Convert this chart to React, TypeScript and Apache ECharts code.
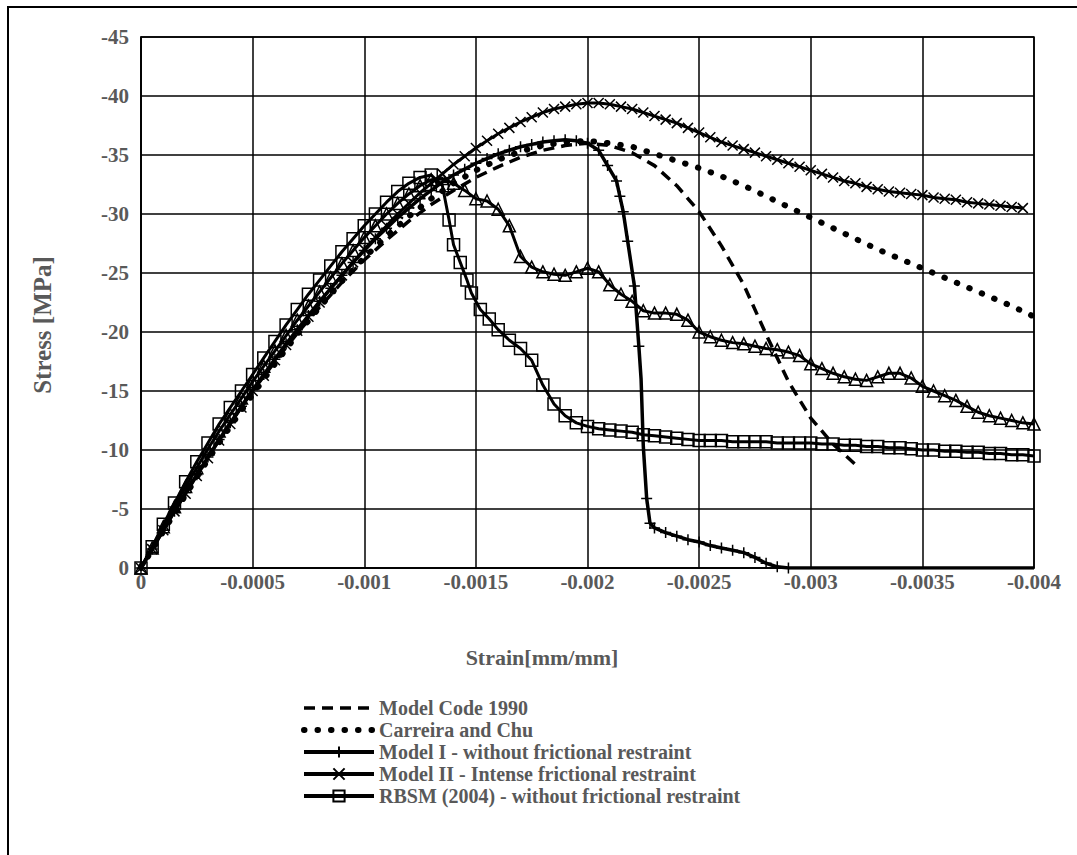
import React, { useEffect, useRef } from "react";
import * as echarts from "echarts";

// strain in units of 1e-3 mm/mm (magnitude), stress in MPa (magnitude); both are negative in the chart
const MODEL_CODE: number[][] = [
  [0, 0], [0.1, 3.3], [0.2, 6.5], [0.3, 9.5], [0.4, 12.3], [0.5, 15.0], [0.6, 17.5], [0.7, 19.9],
  [0.8, 22.1], [0.9, 24.2], [1.0, 26.1], [1.1, 27.8], [1.2, 29.4], [1.3, 30.8], [1.4, 32.0],
  [1.5, 33.1], [1.6, 34.0], [1.7, 34.8], [1.8, 35.4], [1.9, 35.8], [2.0, 36.0], [2.1, 35.8],
  [2.2, 35.2], [2.3, 34.1], [2.4, 32.4], [2.5, 30.2], [2.6, 27.3], [2.7, 24.0], [2.8, 19.8],
  [2.9, 15.8], [3.0, 12.7], [3.1, 10.5], [3.21, 8.6],
];

const CARREIRA_CHU: number[][] = [
  [0, 0], [0.1, 3.1], [0.2, 6.2], [0.3, 9.2], [0.4, 12.0], [0.5, 14.7], [0.6, 17.3], [0.7, 19.8],
  [0.8, 22.1], [0.9, 24.3], [1.0, 26.3], [1.1, 28.1], [1.2, 29.8], [1.3, 31.3], [1.4, 32.6],
  [1.5, 33.7], [1.6, 34.6], [1.7, 35.3], [1.8, 35.8], [1.9, 36.1], [2.0, 36.2], [2.1, 36.0],
  [2.2, 35.7], [2.3, 35.1], [2.4, 34.5], [2.5, 33.9], [2.6, 33.2], [2.7, 32.4], [2.8, 31.5],
  [2.9, 30.6], [3.0, 29.7], [3.1, 28.8], [3.2, 27.9], [3.3, 27.0], [3.4, 26.2], [3.5, 25.4],
  [3.6, 24.6], [3.7, 23.8], [3.8, 23.0], [3.9, 22.2], [4.0, 21.3],
];

// third element 1 = point on the curve without a marker
const MODEL_I: number[][] = [
  [0, 0], [0.05, 1.6], [0.1, 3.2], [0.15, 4.8], [0.2, 6.4], [0.25, 7.9], [0.3, 9.4], [0.35, 10.9],
  [0.4, 12.3], [0.45, 13.7], [0.5, 15.1], [0.55, 16.4], [0.6, 17.7], [0.65, 19.0], [0.7, 20.2],
  [0.75, 21.4], [0.8, 22.6], [0.85, 23.7], [0.9, 24.8], [0.95, 25.9], [1.0, 26.9], [1.05, 27.9],
  [1.1, 28.8], [1.15, 29.7], [1.2, 30.5], [1.25, 31.3], [1.3, 32.0], [1.35, 32.7], [1.4, 33.3],
  [1.45, 33.8], [1.5, 34.3], [1.55, 34.7], [1.6, 35.1], [1.65, 35.4], [1.7, 35.7], [1.75, 35.9],
  [1.8, 36.1], [1.85, 36.2], [1.9, 36.3], [1.95, 36.2], [2.0, 36.0], [2.05, 35.4], [2.09, 34.1],
  [2.13, 32.8], [2.145, 31.5], [2.16, 30.2], [2.18, 27.7], [2.21, 23.9], [2.23, 18.8],
  [2.24, 16.0, 1], [2.25, 10.3, 1], [2.265, 5.9], [2.28, 3.8], [2.3, 3.4], [2.35, 3.0],
  [2.4, 2.7], [2.45, 2.4], [2.5, 2.2], [2.55, 1.9], [2.6, 1.7], [2.65, 1.5], [2.7, 1.3],
  [2.75, 0.9], [2.8, 0.4], [2.85, 0.1], [2.9, 0], [4.0, 0, 1],
];

const MODEL_II: number[][] = [
  [0, 0], [0.05, 1.6], [0.1, 3.2], [0.15, 4.8], [0.2, 6.3], [0.25, 7.8], [0.3, 9.3], [0.35, 10.8],
  [0.4, 12.2], [0.45, 13.6], [0.5, 15.0], [0.55, 16.3], [0.6, 17.6], [0.65, 18.9], [0.7, 20.1],
  [0.75, 21.3], [0.8, 22.5], [0.85, 23.7], [0.9, 24.8], [0.95, 25.9], [1.0, 27.0], [1.05, 28.0],
  [1.1, 29.0], [1.15, 30.0], [1.2, 30.9], [1.25, 31.8], [1.3, 32.6], [1.35, 33.4], [1.4, 34.2],
  [1.45, 34.9], [1.5, 35.6], [1.55, 36.2], [1.6, 36.8], [1.65, 37.3], [1.7, 37.8], [1.75, 38.2],
  [1.8, 38.6], [1.85, 38.9], [1.9, 39.1], [1.95, 39.3], [2.0, 39.4], [2.05, 39.4], [2.1, 39.3],
  [2.15, 39.1], [2.2, 38.9], [2.25, 38.6], [2.3, 38.3], [2.35, 38.0], [2.4, 37.7], [2.45, 37.3],
  [2.5, 36.9], [2.55, 36.5], [2.6, 36.1], [2.65, 35.8], [2.7, 35.5], [2.75, 35.2], [2.8, 34.9],
  [2.85, 34.6], [2.9, 34.3], [2.95, 34.0], [3.0, 33.7], [3.05, 33.4], [3.1, 33.1], [3.15, 32.8],
  [3.2, 32.6], [3.25, 32.3], [3.3, 32.1], [3.35, 31.9], [3.4, 31.8], [3.45, 31.7], [3.5, 31.6],
  [3.55, 31.4], [3.6, 31.3], [3.65, 31.2], [3.7, 31.0], [3.75, 30.9], [3.8, 30.8], [3.85, 30.7],
  [3.9, 30.6], [3.95, 30.5],
];

const RBSM: number[][] = [
  [0, 0], [0.05, 1.8], [0.1, 3.7], [0.15, 5.5], [0.2, 7.3], [0.25, 9.0], [0.3, 10.6], [0.35, 12.2],
  [0.4, 13.6], [0.45, 15.0], [0.5, 16.4], [0.55, 17.8], [0.6, 19.2], [0.65, 20.6], [0.7, 21.9],
  [0.75, 23.2], [0.8, 24.4], [0.85, 25.6], [0.9, 26.8], [0.95, 27.9], [1.0, 29.0], [1.05, 30.0],
  [1.1, 31.0], [1.15, 31.9], [1.2, 32.6], [1.25, 33.1], [1.3, 33.3], [1.35, 32.4], [1.38, 29.5],
  [1.4, 27.4], [1.43, 25.9], [1.46, 24.4], [1.48, 23.3], [1.52, 21.9], [1.56, 21.1], [1.6, 20.2],
  [1.65, 19.3], [1.7, 18.6], [1.75, 17.6], [1.8, 15.5], [1.85, 13.9], [1.9, 12.9], [1.95, 12.3],
  [2.0, 12.0], [2.05, 11.8], [2.1, 11.7], [2.15, 11.6], [2.2, 11.5], [2.25, 11.3], [2.3, 11.2],
  [2.35, 11.1], [2.4, 11.0], [2.45, 10.9], [2.5, 10.8], [2.55, 10.8], [2.6, 10.8], [2.65, 10.7],
  [2.7, 10.7], [2.75, 10.7], [2.8, 10.7], [2.85, 10.6], [2.9, 10.6], [2.95, 10.6], [3.0, 10.6],
  [3.05, 10.5], [3.1, 10.5], [3.15, 10.4], [3.2, 10.4], [3.25, 10.3], [3.3, 10.3], [3.35, 10.2],
  [3.4, 10.2], [3.45, 10.1], [3.5, 10.0], [3.55, 10.0], [3.6, 9.9], [3.65, 9.9], [3.7, 9.8],
  [3.75, 9.8], [3.8, 9.7], [3.85, 9.7], [3.9, 9.6], [3.95, 9.6], [4.0, 9.5],
];

const TRIANGLES: number[][] = [
  [0, 0], [0.05, 1.7], [0.1, 3.5], [0.15, 5.2], [0.2, 6.9], [0.25, 8.5], [0.3, 10.1], [0.35, 11.6],
  [0.4, 13.0], [0.45, 14.4], [0.5, 15.8], [0.55, 17.1], [0.6, 18.4], [0.65, 19.7], [0.7, 21.0],
  [0.75, 22.2], [0.8, 23.4], [0.85, 24.6], [0.9, 25.8], [0.95, 26.9], [1.0, 28.0], [1.05, 29.0],
  [1.1, 30.0], [1.15, 30.9], [1.2, 31.7], [1.25, 32.4], [1.3, 32.9], [1.35, 33.0], [1.4, 32.6],
  [1.45, 32.0], [1.5, 31.3], [1.55, 31.1], [1.6, 30.4], [1.65, 29.0], [1.7, 26.4], [1.75, 25.5],
  [1.8, 25.1], [1.85, 24.9], [1.9, 24.8], [1.95, 25.1], [2.0, 25.4], [2.05, 25.1], [2.1, 24.0],
  [2.15, 23.2], [2.2, 22.6], [2.25, 21.8], [2.3, 21.6], [2.35, 21.6], [2.4, 21.5], [2.45, 21.0],
  [2.5, 20.0], [2.55, 19.6], [2.6, 19.3], [2.65, 19.1], [2.7, 19.0], [2.75, 18.8], [2.8, 18.6],
  [2.85, 18.5], [2.9, 18.3], [2.95, 18.0], [3.0, 17.3], [3.05, 16.9], [3.1, 16.5], [3.15, 16.2],
  [3.2, 16.0], [3.25, 15.9], [3.3, 16.2], [3.35, 16.5], [3.4, 16.5], [3.45, 16.1], [3.5, 15.4],
  [3.55, 15.0], [3.6, 14.6], [3.65, 14.2], [3.7, 13.7], [3.75, 13.2], [3.8, 12.9], [3.85, 12.7],
  [3.9, 12.5], [3.95, 12.3], [4.0, 12.2],
];

const NAMES = [
  "Model Code 1990",
  "Carreira and Chu",
  "Model I - without frictional restraint",
  "Model II - Intense frictional restraint",
  "RBSM (2004) - without frictional restraint",
];

const X_TITLE = "Strain[mm/mm]";
const Y_TITLE = "Stress [MPa]";

const FONT = "Liberation Serif, Times New Roman, serif";
const GREY = "#595959";

function toData(arr: number[][]) {
  return arr.map((p) => {
    const v = [-p[0] / 1000, -p[1]];
    if (p[2] === 1) return { value: v, symbol: "none" };
    return v;
  });
}

export default function App() {
  const ref = useRef<HTMLDivElement>(null);
  useEffect(() => {
    if (!ref.current) return;
    const chart = echarts.init(ref.current, undefined, { renderer: "svg" });
    const markerStyle = { color: "rgba(0,0,0,0)", borderColor: "#000", borderWidth: 1.5 };
    const dashed = { color: "#000", width: 3.5, type: [11, 7] };
    const dotted = { color: "#000", width: 6, type: [0.5, 13], cap: "round" };
    const solid = { color: "#000", width: 3.5 };
    const hiddenSymbol = { opacity: 0, color: "rgba(0,0,0,0)", borderWidth: 0 };
    const option: any = {
      animation: false,
      backgroundColor: "#fff",
      grid: {
        left: 141,
        right: 43,
        top: 37,
        bottom: 287,
        show: true,
        borderColor: "#000",
        borderWidth: 1.5,
      },
      xAxis: {
        type: "value",
        min: -0.004,
        max: 0,
        interval: 0.0005,
        inverse: true,
        axisLine: { show: true, onZero: false, lineStyle: { color: "#000", width: 1.5 } },
        axisTick: { show: false },
        splitLine: { show: true, lineStyle: { color: "#000", width: 1.5 } },
        axisLabel: {
          margin: 3,
          fontSize: 21,
          fontWeight: "bold",
          fontFamily: FONT,
          color: GREY,
          formatter: (v: number) => (v === 0 ? "0" : String(Number(v.toPrecision(4)))),
        },
      },
      yAxis: {
        type: "value",
        min: -45,
        max: 0,
        interval: 5,
        inverse: true,
        axisLine: { show: true, onZero: false, lineStyle: { color: "#000", width: 1.5 } },
        axisTick: { show: false },
        splitLine: { show: true, lineStyle: { color: "#000", width: 1.5 } },
        axisLabel: {
          margin: 12,
          fontSize: 21,
          fontWeight: "bold",
          fontFamily: FONT,
          color: GREY,
          formatter: (v: number) => String(Math.round(v)),
        },
      },
      legend: {
        data: [
          { name: NAMES[0], itemStyle: hiddenSymbol, lineStyle: dashed },
          { name: NAMES[1], itemStyle: hiddenSymbol, lineStyle: dotted },
          { name: NAMES[2], lineStyle: { color: "#000", width: 4 } },
          { name: NAMES[3], lineStyle: { color: "#000", width: 4 } },
          { name: NAMES[4], lineStyle: { color: "#000", width: 4 } },
        ],
        orient: "vertical",
        left: 296,
        top: 692,
        itemWidth: 70,
        itemHeight: 14,
        itemGap: 0,
        textStyle: {
          fontSize: 20,
          lineHeight: 22,
          fontWeight: "bold",
          fontFamily: FONT,
          color: GREY,
        },
      },
      graphic: [
        {
          type: "rect",
          shape: { x: 8, y: 7, width: 2000, height: 2000 },
          style: { fill: "none", stroke: "#000", lineWidth: 2 },
          silent: true,
        },
        {
          type: "text",
          x: 542,
          y: 657,
          style: {
            text: X_TITLE,
            fontSize: 22,
            fontWeight: "bold",
            fontFamily: FONT,
            fill: GREY,
            textAlign: "center",
            textVerticalAlign: "middle",
          },
        },
        {
          type: "text",
          x: 42,
          y: 325,
          rotation: Math.PI / 2,
          style: {
            text: Y_TITLE,
            fontSize: 25,
            fontWeight: "bold",
            fontFamily: FONT,
            fill: GREY,
            textAlign: "center",
            textVerticalAlign: "middle",
          },
        },
      ],
      series: [
        {
          name: "triangles",
          type: "line",
          data: toData(TRIANGLES),
          symbol: "triangle",
          symbolSize: 12,
          itemStyle: markerStyle,
          lineStyle: { color: "#000", width: 3 },
          z: 2,
        },
        {
          name: NAMES[4],
          type: "line",
          data: toData(RBSM),
          symbol: "rect",
          symbolSize: 12,
          itemStyle: markerStyle,
          lineStyle: { color: "#000", width: 3 },
          z: 3,
        },
        {
          name: NAMES[3],
          type: "line",
          data: toData(MODEL_II),
          symbol: "path://M0,0L10,10M10,0L0,10",
          symbolSize: 10,
          itemStyle: markerStyle,
          lineStyle: { color: "#000", width: 3 },
          z: 4,
        },
        {
          name: NAMES[2],
          type: "line",
          data: toData(MODEL_I),
          symbol: "path://M5,0L5,10M0,5L10,5",
          symbolSize: 11,
          itemStyle: markerStyle,
          lineStyle: solid,
          z: 5,
        },
        {
          name: NAMES[1],
          type: "line",
          data: toData(CARREIRA_CHU),
          symbol: "none",
          itemStyle: { color: "#000" },
          lineStyle: dotted,
          z: 6,
        },
        {
          name: NAMES[0],
          type: "line",
          data: toData(MODEL_CODE),
          symbol: "none",
          itemStyle: { color: "#000" },
          lineStyle: dashed,
          z: 7,
        },
      ],
    };
    chart.setOption(option);
    return () => chart.dispose();
  }, []);
  return (
    <div
      ref={ref}
      style={{ position: "absolute", left: 0, top: 0, width: 1077, height: 855, background: "#fff" }}
    />
  );
}
